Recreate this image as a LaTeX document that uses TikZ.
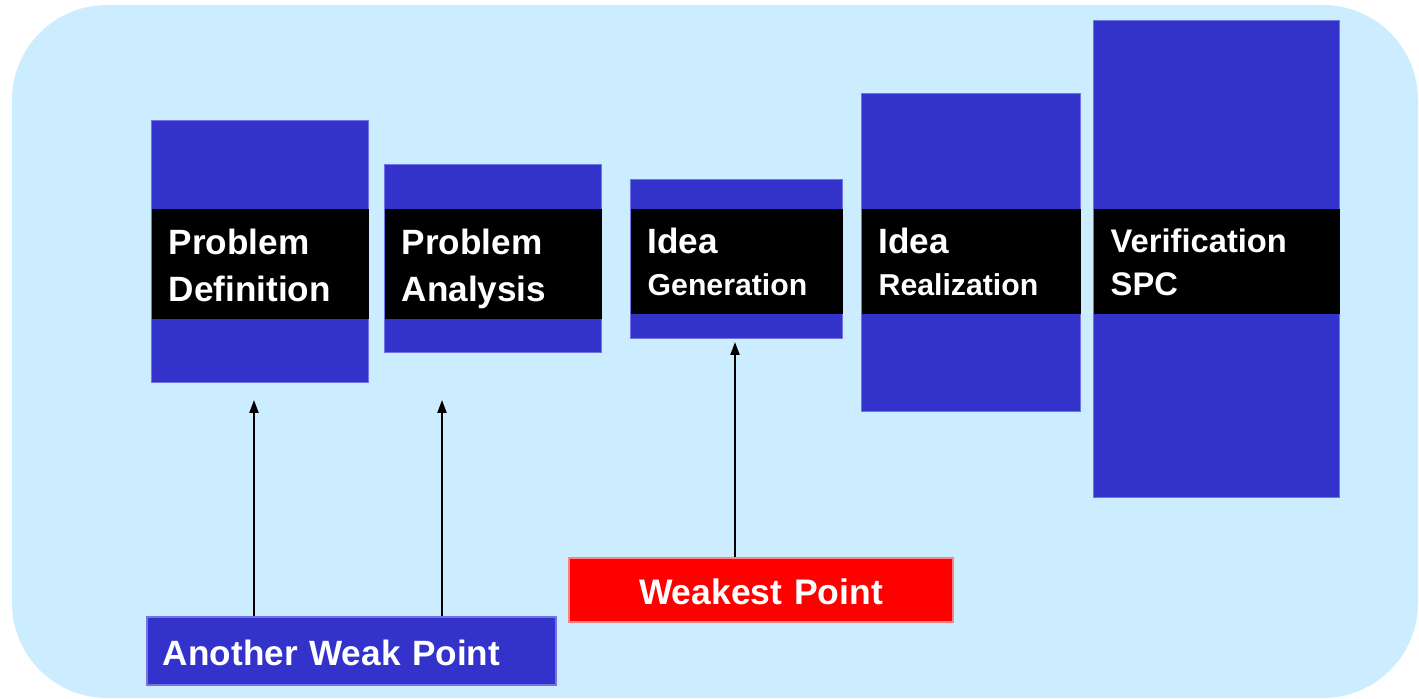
\documentclass[tikz,border=0pt]{standalone}
\usepackage{fontspec}
\setmainfont{Liberation Sans}
\usetikzlibrary{arrows.meta,calc,positioning}
\definecolor{bgblue}{RGB}{204,236,255}
\definecolor{stageblue}{RGB}{51,51,204}
\definecolor{edgeblue}{RGB}{115,115,230}
\definecolor{edgered}{RGB}{255,130,130}
\tikzset{
  stage/.style={fill=stageblue, draw=edgeblue, line width=0.4pt,
    anchor=north west, inner sep=0pt},
  band/.style={fill=black, anchor=north west, inner sep=0pt},
  lbl/.style={text=white, anchor=base west, inner sep=0pt,
    font=\bfseries\fontsize{10}{12}\selectfont},
  lblsmall/.style={lbl, font=\bfseries\fontsize{8.6}{10}\selectfont},
  lblmid/.style={lbl, font=\bfseries\fontsize{9.3}{11}\selectfont},
  weakbox/.style={text=white, inner ysep=0pt, text height=0.30cm, text depth=0cm},
  arr/.style={-{Triangle[width=0.09cm,length=0.13cm]}, line width=0.6pt}
}
\begin{document}
\begin{tikzpicture}
  \useasboundingbox (0,0) rectangle (14.19,-6.99);
  \fill[bgblue, rounded corners=0.95cm] (0.12,-0.05) rectangle (14.18,-6.98);
  % stages
  \node[stage, minimum width=2.17cm, minimum height=2.62cm] (pd) at (1.51,-1.20) {};
  \node[stage, minimum width=2.17cm, minimum height=1.88cm] (pa) at (3.84,-1.64) {};
  \node[stage, minimum width=2.12cm, minimum height=1.59cm] (ig) at (6.30,-1.79) {};
  \node[stage, minimum width=2.19cm, minimum height=3.18cm] (ir) at (8.61,-0.93) {};
  \node[stage, minimum width=2.46cm, minimum height=4.77cm] (vs) at (10.93,-0.20) {};
  \node[band, minimum width=2.17cm, minimum height=1.10cm] (pdband) at (1.51,-2.08) {};
  \node[band, minimum width=2.17cm, minimum height=1.10cm] (paband) at (3.84,-2.08) {};
  \node[band, minimum width=2.12cm, minimum height=1.05cm] (igband) at (6.30,-2.08) {};
  \node[band, minimum width=2.19cm, minimum height=1.05cm] (irband) at (8.61,-2.08) {};
  \node[band, minimum width=2.46cm, minimum height=1.05cm] (vsband) at (10.93,-2.08) {};
  \node[lbl] (pdA) at (1.68,-2.55) {Problem};
  \node[lbl] (pdB) at (1.68,-3.02) {Definition};
  \node[lbl] (paA) at (4.01,-2.55) {Problem};
  \node[lbl] (paB) at (4.01,-3.02) {Analysis};
  \node[lbl] (igA) at (6.47,-2.54) {Idea};
  \node[lblsmall] (igB) at (6.47,-2.96) {Generation};
  \node[lbl] (irA) at (8.78,-2.54) {Idea};
  \node[lblsmall] (irB) at (8.78,-2.96) {Realization};
  \node[lblmid] (vsA) at (11.10,-2.53) {Verification};
  \node[lblmid] (vsB) at (11.10,-2.96) {SPC};
  % weak points
  \node[weakbox, fill=stageblue, draw=edgeblue, line width=0.4pt,
    inner xsep=0.16cm, text width=3.77cm, minimum height=0.68cm, align=left,
    font=\bfseries\fontsize{10}{12}\selectfont] (awp) at (3.515,-6.51) {Another Weak Point};
  \node[weakbox, fill=red, draw=edgered, line width=0.4pt,
    inner xsep=0pt, text width=3.84cm, minimum height=0.64cm, align=center,
    font=\bfseries\fontsize{10.1}{12}\selectfont] (wp) at (7.61,-5.90) {Weakest Point};
  \coordinate (pdtip) at (2.54,-4.00);
  \coordinate (patip) at (4.42,-4.00);
  \coordinate (igtip) at (7.35,-3.42);
  \draw[arr] (awp.north -| pdtip) -- (pdtip);
  \draw[arr] (awp.north -| patip) -- (patip);
  \draw[arr] (wp.north -| igtip) -- (igtip);
\end{tikzpicture}
\end{document}
